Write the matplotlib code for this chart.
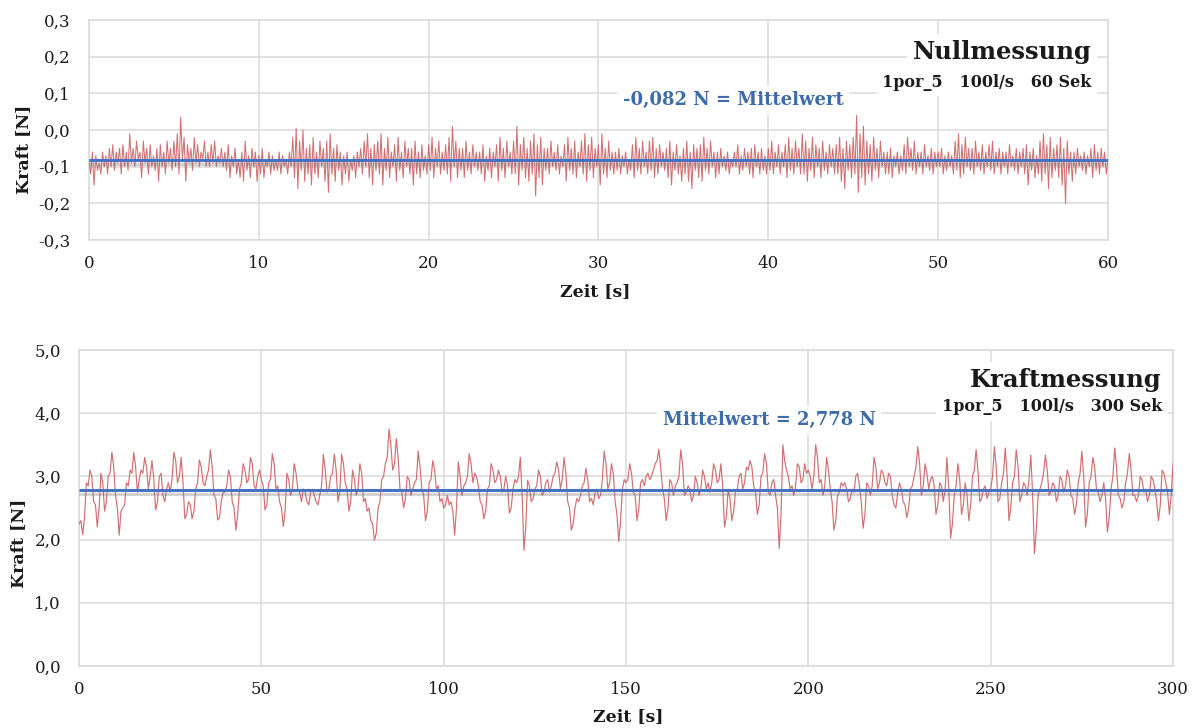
import matplotlib
matplotlib.use("Agg")
import matplotlib.pyplot as plt
import matplotlib.patheffects as pe
from matplotlib.ticker import FuncFormatter

plt.rcParams["font.family"] = ["DejaVu Serif"]

# ---- Nullmessung: force over 60 s, sampled every 0.1 s (one row per second) ----
NULL_STEP = 0.1
null_force = [
    -0.08, -0.12, -0.06, -0.15, -0.07, -0.11, -0.09, -0.12, -0.06, -0.10,
    -0.07, -0.12, -0.05, -0.10, -0.04, -0.11, -0.06, -0.09, -0.05, -0.12,
    -0.04, -0.10, -0.06, -0.11, -0.01, -0.09, -0.05, -0.10, -0.03, -0.08,
    -0.06, -0.13, -0.03, -0.09, -0.05, -0.12, -0.04, -0.10, -0.07, -0.11,
    -0.05, -0.14, -0.04, -0.10, -0.06, -0.12, -0.03, -0.09, -0.05, -0.11,
    -0.03, -0.10, -0.01, -0.12, 0.035, -0.08, -0.02, -0.14, -0.04, -0.09,
    -0.05, -0.11, -0.02, -0.09, -0.04, -0.10, -0.06, -0.08, -0.03, -0.10,
    -0.06, -0.10, -0.04, -0.09, -0.03, -0.10, -0.07, -0.09, -0.05, -0.10,
    -0.06, -0.11, -0.04, -0.13, -0.07, -0.10, -0.05, -0.12, -0.08, -0.13,
    -0.06, -0.14, -0.03, -0.11, -0.07, -0.13, -0.05, -0.10, -0.06, -0.14,
    -0.07, -0.12, -0.05, -0.13, -0.08, -0.10, -0.06, -0.12, -0.07, -0.11,
    -0.08, -0.11, -0.06, -0.12, -0.07, -0.10, -0.08, -0.12, -0.06, -0.10,
    -0.02, -0.13, 0.005, -0.16, -0.03, -0.11, 0.00, -0.14, -0.05, -0.12,
    -0.04, -0.15, -0.02, -0.12, -0.06, -0.13, -0.03, -0.10, -0.05, -0.14,
    -0.03, -0.17, -0.01, -0.12, -0.05, -0.14, -0.04, -0.11, -0.06, -0.15,
    -0.07, -0.12, -0.06, -0.14, -0.08, -0.11, -0.07, -0.13, -0.06, -0.10,
    -0.05, -0.12, -0.03, -0.10, -0.01, -0.13, -0.05, -0.15, -0.04, -0.11,
    -0.03, -0.12, -0.01, -0.15, -0.05, -0.11, -0.02, -0.13, -0.06, -0.10,
    -0.04, -0.14, -0.02, -0.11, -0.06, -0.13, -0.03, -0.10, -0.05, -0.12,
    -0.05, -0.15, -0.03, -0.12, -0.06, -0.13, -0.04, -0.11, -0.07, -0.12,
    -0.04, -0.11, -0.02, -0.13, -0.05, -0.10, -0.03, -0.12, -0.06, -0.11,
    -0.04, -0.12, -0.02, -0.14, 0.01, -0.10, -0.03, -0.13, -0.05, -0.11,
    -0.05, -0.13, -0.03, -0.11, -0.06, -0.12, -0.04, -0.10, -0.06, -0.11,
    -0.06, -0.12, -0.04, -0.14, -0.07, -0.11, -0.05, -0.13, -0.06, -0.10,
    -0.04, -0.14, -0.02, -0.11, -0.05, -0.13, -0.03, -0.10, -0.06, -0.12,
    -0.03, -0.12, 0.01, -0.15, -0.04, -0.11, -0.02, -0.13, -0.05, -0.14,
    -0.03, -0.12, -0.01, -0.18, -0.04, -0.13, -0.02, -0.15, -0.05, -0.11,
    -0.05, -0.12, -0.03, -0.10, -0.06, -0.11, -0.04, -0.12, -0.07, -0.10,
    -0.04, -0.14, -0.02, -0.11, -0.05, -0.12, -0.03, -0.13, -0.06, -0.10,
    -0.03, -0.12, -0.01, -0.14, -0.04, -0.11, -0.02, -0.13, -0.05, -0.10,
    -0.04, -0.15, -0.01, -0.12, -0.05, -0.13, -0.03, -0.11, -0.06, -0.12,
    -0.06, -0.11, -0.05, -0.12, -0.07, -0.10, -0.06, -0.12, -0.08, -0.11,
    -0.04, -0.13, -0.02, -0.11, -0.05, -0.12, -0.03, -0.10, -0.06, -0.12,
    -0.03, -0.11, -0.02, -0.13, -0.05, -0.12, -0.04, -0.10, -0.06, -0.11,
    -0.05, -0.13, -0.03, -0.15, -0.06, -0.11, -0.04, -0.12, -0.07, -0.14,
    -0.05, -0.12, -0.03, -0.14, -0.06, -0.16, -0.04, -0.11, -0.05, -0.13,
    -0.04, -0.14, -0.02, -0.11, -0.05, -0.12, -0.03, -0.10, -0.06, -0.13,
    -0.06, -0.12, -0.05, -0.10, -0.07, -0.11, -0.06, -0.12, -0.08, -0.10,
    -0.06, -0.10, -0.04, -0.12, -0.07, -0.11, -0.05, -0.10, -0.06, -0.12,
    -0.05, -0.13, -0.04, -0.10, -0.06, -0.12, -0.05, -0.11, -0.07, -0.12,
    -0.05, -0.11, -0.03, -0.12, -0.06, -0.10, -0.04, -0.12, -0.06, -0.10,
    -0.04, -0.13, -0.02, -0.11, -0.05, -0.12, -0.03, -0.10, -0.05, -0.12,
    -0.01, -0.12, -0.03, -0.14, -0.05, -0.11, -0.02, -0.13, -0.04, -0.10,
    -0.05, -0.13, -0.03, -0.11, -0.06, -0.12, -0.04, -0.10, -0.05, -0.12,
    -0.04, -0.12, -0.02, -0.14, -0.05, -0.16, -0.03, -0.11, -0.04, -0.13,
    -0.02, -0.12, 0.04, -0.17, -0.01, -0.13, 0.01, -0.15, -0.03, -0.12,
    -0.04, -0.14, -0.02, -0.11, -0.05, -0.13, -0.03, -0.10, -0.06, -0.12,
    -0.06, -0.12, -0.05, -0.13, -0.07, -0.10, -0.06, -0.12, -0.07, -0.11,
    -0.04, -0.12, -0.02, -0.10, -0.05, -0.11, -0.03, -0.12, -0.06, -0.10,
    -0.06, -0.12, -0.04, -0.10, -0.07, -0.11, -0.05, -0.12, -0.06, -0.10,
    -0.06, -0.10, -0.05, -0.12, -0.07, -0.11, -0.06, -0.10, -0.07, -0.12,
    -0.03, -0.11, -0.01, -0.13, -0.04, -0.12, -0.02, -0.10, -0.05, -0.11,
    -0.05, -0.12, -0.03, -0.10, -0.06, -0.11, -0.04, -0.12, -0.06, -0.10,
    -0.04, -0.11, -0.03, -0.12, -0.06, -0.10, -0.05, -0.12, -0.06, -0.10,
    -0.06, -0.12, -0.04, -0.10, -0.07, -0.11, -0.05, -0.12, -0.06, -0.10,
    -0.05, -0.12, -0.04, -0.15, -0.06, -0.11, -0.05, -0.13, -0.07, -0.12,
    -0.03, -0.14, -0.01, -0.12, -0.04, -0.16, -0.02, -0.13, -0.05, -0.11,
    -0.04, -0.13, -0.02, -0.15, -0.05, -0.20, -0.03, -0.12, -0.06, -0.14,
    -0.06, -0.12, -0.05, -0.10, -0.07, -0.11, -0.06, -0.12, -0.07, -0.10,
    -0.05, -0.13, -0.04, -0.11, -0.06, -0.12, -0.05, -0.10, -0.06, -0.12,
    -0.08,
]
null_mean = -0.082
null_xticks = [0, 10, 20, 30, 40, 50, 60]
null_yticks = [-0.3, -0.2, -0.1, 0.0, 0.1, 0.2, 0.3]

# ---- Kraftmessung: force over 300 s, sampled every 0.5 s (one row per 10 s) ----
KRAFT_STEP = 0.5
kraft_force = [
    2.25, 2.30, 2.08, 2.35, 2.90, 2.85, 3.10, 3.00, 2.60, 2.55, 2.20, 2.50, 3.05, 2.90, 2.45, 2.60, 3.00, 3.05, 3.38, 3.15,
    2.70, 2.50, 2.07, 2.45, 2.50, 2.55, 2.90, 2.85, 3.10, 3.05, 3.38, 3.15, 2.75, 2.95, 3.10, 3.05, 3.30, 3.15, 2.80, 3.00,
    3.25, 2.95, 2.47, 2.60, 3.00, 3.05, 2.70, 2.60, 2.80, 2.90, 2.75, 2.95, 3.38, 3.25, 2.90, 3.00, 3.30, 2.90, 2.33, 2.40,
    2.60, 2.55, 2.33, 2.45, 2.80, 2.90, 3.26, 3.15, 2.90, 2.85, 3.00, 3.10, 3.42, 3.15, 2.70, 2.65, 2.31, 2.35, 2.60, 2.75,
    2.75, 2.85, 3.10, 3.00, 2.60, 2.50, 2.15, 2.40, 2.80, 2.90, 3.20, 3.10, 2.90, 2.95, 3.30, 3.20, 2.85, 2.80, 3.00, 3.10,
    2.95, 2.85, 2.47, 2.55, 2.90, 2.95, 3.36, 3.20, 2.80, 2.85, 2.60, 2.50, 2.21, 2.45, 3.05, 2.95, 2.70, 2.80, 3.20, 3.05,
    2.80, 2.75, 2.60, 2.80, 2.75, 2.60, 2.55, 2.75, 2.80, 2.70, 2.60, 2.55, 2.70, 2.85, 3.35, 3.10, 2.75, 2.80, 3.00, 3.05,
    3.35, 3.10, 2.60, 2.75, 3.35, 3.20, 2.90, 2.80, 2.45, 2.60, 3.10, 2.95, 2.70, 2.80, 3.20, 3.05, 2.60, 2.65, 2.45, 2.50,
    2.30, 2.25, 1.99, 2.10, 2.50, 2.60, 2.95, 3.00, 3.20, 3.30, 3.75, 3.50, 3.10, 3.20, 3.60, 3.30, 2.80, 2.75, 2.50, 2.65,
    3.00, 2.95, 2.70, 2.80, 2.90, 2.95, 3.40, 3.15, 2.80, 2.70, 2.30, 2.45, 2.90, 2.95, 3.25, 3.10, 2.80, 2.85, 2.60, 2.65,
    2.50, 2.55, 2.70, 2.55, 2.60, 2.45, 2.07, 2.50, 3.23, 3.00, 2.70, 2.85, 2.90, 3.00, 3.36, 3.20, 2.90, 3.05, 3.00, 2.85,
    2.60, 2.55, 2.33, 2.45, 2.80, 2.85, 3.20, 3.10, 2.90, 2.95, 3.10, 3.00, 2.75, 2.80, 3.00, 2.85, 2.42, 2.50, 2.80, 2.95,
    2.90, 3.00, 3.30, 2.70, 1.83, 2.20, 2.94, 2.85, 2.60, 2.65, 2.80, 2.85, 3.10, 3.00, 2.70, 2.75, 2.90, 2.95, 2.75, 2.85,
    3.00, 3.05, 3.23, 3.10, 2.80, 2.95, 3.30, 3.05, 2.60, 2.50, 2.15, 2.25, 2.50, 2.65, 2.60, 2.70, 2.85, 2.90, 3.13, 2.95,
    2.60, 2.65, 2.55, 2.75, 2.80, 2.65, 2.70, 2.95, 3.40, 3.20, 2.80, 2.90, 3.20, 3.05, 2.60, 2.40, 1.97, 2.30, 2.80, 2.95,
    2.90, 2.95, 3.20, 3.05, 2.75, 2.70, 2.30, 2.50, 2.90, 2.95, 2.85, 3.00, 3.05, 2.95, 3.00, 3.10, 3.20, 3.25, 3.43, 3.15,
    2.80, 2.65, 2.30, 2.50, 2.95, 2.90, 2.70, 2.85, 2.90, 3.00, 3.42, 3.20, 2.70, 2.75, 2.85, 2.80, 2.60, 2.70, 3.00, 2.90,
    2.70, 2.80, 3.10, 3.00, 2.80, 2.90, 2.75, 2.90, 3.20, 3.10, 2.90, 2.95, 3.20, 2.85, 2.20, 2.35, 2.80, 2.65, 2.30, 2.45,
    2.75, 2.80, 3.00, 3.05, 2.80, 2.90, 3.15, 3.10, 3.25, 3.15, 2.85, 2.75, 2.40, 2.55, 3.00, 3.05, 3.36, 3.20, 2.75, 2.70,
    2.90, 2.95, 2.70, 2.50, 1.86, 2.40, 3.50, 3.25, 3.10, 3.00, 2.80, 2.85, 2.70, 2.85, 3.20, 3.15, 2.90, 2.95, 3.20, 3.05,
    3.10, 3.00, 2.80, 3.00, 3.50, 3.30, 2.90, 2.95, 2.70, 2.85, 3.30, 3.10, 2.80, 2.60, 2.15, 2.30, 2.70, 2.75, 2.90, 2.85,
    2.90, 2.80, 2.60, 2.65, 2.80, 2.75, 3.00, 3.05, 2.85, 2.60, 2.18, 2.40, 2.90, 2.85, 2.70, 2.85, 3.30, 3.15, 2.80, 2.90,
    3.10, 3.05, 2.90, 2.85, 3.05, 3.00, 2.70, 2.55, 2.50, 2.75, 2.90, 2.80, 2.60, 2.55, 2.35, 2.50, 2.80, 2.85, 3.00, 3.15,
    3.47, 3.20, 2.70, 2.85, 3.20, 3.05, 2.80, 2.95, 3.00, 2.85, 2.40, 2.55, 2.90, 2.85, 2.60, 2.80, 3.30, 2.80, 2.02, 2.25,
    2.70, 2.85, 3.20, 2.95, 2.40, 2.55, 2.90, 2.70, 2.30, 2.55, 3.00, 3.10, 3.42, 3.10, 2.60, 2.65, 2.80, 2.85, 2.65, 2.75,
    2.80, 3.00, 3.47, 3.15, 2.60, 2.65, 2.90, 3.05, 3.45, 3.00, 2.30, 2.50, 2.90, 3.00, 3.42, 3.15, 2.60, 2.70, 2.90, 2.85,
    2.70, 2.95, 3.34, 2.70, 1.78, 2.15, 2.70, 2.80, 2.90, 3.05, 3.34, 3.10, 2.70, 2.75, 2.90, 2.85, 2.60, 2.70, 3.00, 2.95,
    2.75, 2.85, 3.10, 3.00, 2.70, 2.65, 2.40, 2.55, 2.90, 3.05, 3.40, 3.00, 2.20, 2.40, 2.90, 3.00, 3.30, 3.15, 2.80, 2.75,
    2.60, 2.70, 2.90, 2.65, 2.12, 2.35, 2.80, 3.00, 3.45, 3.15, 2.70, 2.65, 2.50, 2.60, 2.90, 3.05, 3.36, 3.10, 2.70, 2.70,
    2.60, 2.70, 3.00, 2.95, 2.75, 2.80, 2.60, 2.70, 3.00, 2.95, 2.80, 2.60, 2.30, 2.55, 3.10, 3.05, 2.90, 2.75, 2.40, 2.70,
    3.20,
]
kraft_mean = 2.778
kraft_xticks = [0, 50, 100, 150, 200, 250, 300]
kraft_yticks = [0.0, 1.0, 2.0, 3.0, 4.0, 5.0]

RED = "#D0676A"
BLUE = "#4472C4"
LABEL_BLUE = "#3E6BA9"
GRID = "#DADADA"
TEXT = "#1A1A1A"


def de_number(decimals):
    return FuncFormatter(lambda v, _: f"{round(v, 6) + 0.0:.{decimals}f}".replace(".", ","))


def style_axes(ax, xticks, yticks):
    ax.set_xticks(xticks)
    ax.set_yticks(yticks)
    ax.set_xlim(xticks[0], xticks[-1])
    ax.set_ylim(yticks[0], yticks[-1])
    ax.yaxis.set_major_formatter(de_number(1))
    ax.grid(True, color=GRID, linewidth=1.1)
    ax.set_axisbelow(True)
    for sp in ax.spines.values():
        sp.set_color(GRID)
        sp.set_linewidth(1.1)
    ax.tick_params(length=0, labelsize=12, colors=TEXT)
    ax.tick_params(axis="y", pad=13)
    ax.tick_params(axis="x", pad=11)


def draw_series(ax, step, values, mean, lw):
    t = [i * step for i in range(len(values))]
    ax.plot(t, values, color=RED, linewidth=lw, alpha=0.95, zorder=3)
    ax.plot([t[0], t[-1]], [mean, mean], color=BLUE, linewidth=2.2, zorder=4,
            solid_capstyle="butt",
            path_effects=[pe.SimpleLineShadow(offset=(0, -2.5), shadow_color="#808080", alpha=0.35),
                          pe.Normal()])


fig = plt.figure(figsize=(11.96, 7.28), dpi=100)
fig.patch.set_facecolor("white")

box = dict(facecolor="white", edgecolor="none", pad=4)

# top panel
ax1 = fig.add_axes([0.0744, 0.6703, 0.8520, 0.3022])
draw_series(ax1, NULL_STEP, null_force, null_mean, 0.75)
style_axes(ax1, null_xticks, null_yticks)
ax1.set_xlabel("Zeit [s]", fontsize=12.5, fontweight="bold", color=TEXT)
ax1.set_ylabel("Kraft [N]", fontsize=12.5, fontweight="bold", color=TEXT)
ax1.xaxis.set_label_coords(0.497, -0.195)
ax1.yaxis.set_label_coords(-0.056, 0.41)
ax1.text(0.632, 0.636, f"{null_mean:.3f} N = Mittelwert".replace(".", ","),
         transform=ax1.transAxes, ha="center", va="center", fontsize=13,
         fontweight="bold", color=LABEL_BLUE, bbox=box, zorder=6)
ax1.text(0.984, 0.855, "Nullmessung", transform=ax1.transAxes, ha="right",
         va="center", fontsize=17.5, fontweight="bold", color=TEXT, bbox=box, zorder=6)
ax1.text(0.984, 0.718, "1por_5   100l/s   60 Sek", transform=ax1.transAxes,
         ha="right", va="center", fontsize=11.5, fontweight="bold", color=TEXT,
         bbox=box, zorder=6)

# bottom panel
ax2 = fig.add_axes([0.0661, 0.0852, 0.9147, 0.4340])
draw_series(ax2, KRAFT_STEP, kraft_force, kraft_mean, 0.85)
style_axes(ax2, kraft_xticks, kraft_yticks)
ax2.set_xlabel("Zeit [s]", fontsize=12.5, fontweight="bold", color=TEXT)
ax2.set_ylabel("Kraft [N]", fontsize=12.5, fontweight="bold", color=TEXT)
ax2.xaxis.set_label_coords(0.502, -0.133)
ax2.yaxis.set_label_coords(-0.0476, 0.389)
ax2.text(0.631, 0.778, f"Mittelwert = {kraft_mean:.3f} N".replace(".", ","),
         transform=ax2.transAxes, ha="center", va="center", fontsize=13,
         fontweight="bold", color=LABEL_BLUE, bbox=box, zorder=6)
ax2.text(0.990, 0.905, "Kraftmessung", transform=ax2.transAxes, ha="right",
         va="center", fontsize=17.5, fontweight="bold", color=TEXT, bbox=box, zorder=6)
ax2.text(0.990, 0.820, "1por_5   100l/s   300 Sek", transform=ax2.transAxes,
         ha="right", va="center", fontsize=11.5, fontweight="bold", color=TEXT,
         bbox=box, zorder=6)

fig.savefig("out.png", dpi=100, facecolor="white")
